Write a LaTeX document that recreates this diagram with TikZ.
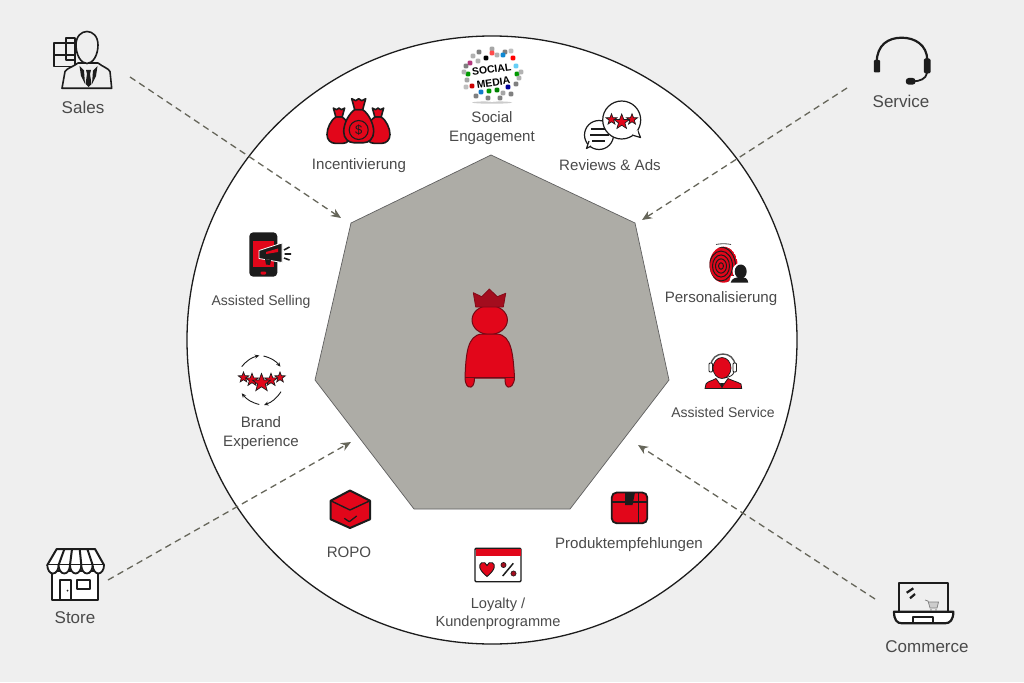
\documentclass[tikz,border=0pt]{standalone}
\usepackage{fontspec}
\setmainfont{Liberation Sans}
\usepackage{tikz}
\usetikzlibrary{positioning,arrows.meta}
\definecolor{bggray}{HTML}{EFEFEF}
\definecolor{polygray}{HTML}{ADACA6}
\definecolor{redfill}{HTML}{E2061A}
\definecolor{darkred}{HTML}{A30D1E}
\definecolor{inkdark}{HTML}{1C1C1C}
\definecolor{flowgray}{HTML}{66665A}
\definecolor{textgray}{HTML}{4A4A4A}
\tikzset{
  lbl/.style={align=center,inner sep=0pt,text=textgray,font=\fontsize{15.1}{19}\selectfont},
  lblsmall/.style={lbl,font=\fontsize{14}{18}\selectfont},
  lblloyal/.style={lbl,font=\fontsize{14.6}{18}\selectfont},
  lblouter/.style={lbl,font=\fontsize{17}{20}\selectfont},
  flow/.style={draw=flowgray,line width=1.3pt,dash pattern=on 6.5pt off 4.5pt,-{Stealth[length=10pt,width=8.5pt]}},
  ink/.style={draw=inkdark,line width=1.6pt,line join=round},
  inkred/.style={ink,fill=redfill},
  pics/starmark/.style={code={
    \draw[draw=inkdark,line width=.7pt,fill=redfill,line join=miter]
      (0,-5)--(1.3,-1.6)--(4.8,-1.5)--(2,.6)--(3,4)--(0,2)--(-3,4)--(-2,.6)--(-4.8,-1.5)--(-1.3,-1.6)--cycle;
  }},
  pics/moneybag/.style={code={
    \draw[inkred] (-4,-11) .. controls (-10,-7) and (-15,3) .. (-15,11)
      .. controls (-15,18) and (-10,22) .. (-5,22) -- (5,22)
      .. controls (10,22) and (15,18) .. (15,11) .. controls (15,3) and (10,-7) .. (4,-11) -- cycle;
    \draw[inkred] (-7,-22) -- (-3,-20) -- (0,-22) -- (3,-20) -- (7,-22) -- (4,-11) -- (-4,-11) -- cycle;
  }},
}
\begin{document}
\begin{tikzpicture}[x=1pt,y=-1pt,>=Stealth]
  \useasboundingbox (0,0) rectangle (1024,682);
  \fill[bggray] (0,0) rectangle (1024,682);
  \draw[inkdark,line width=1.3pt,fill=white] (492,340) ellipse [x radius=305,y radius=304];
  \draw[inkdark!70,line width=.7pt,fill=polygray] (491,155) -- (635,223) -- (669,380) -- (570,509)
    -- (414,509) -- (315,380) -- (351,223) -- cycle;

  % connectors
  \coordinate (salesfrom) at (130,77);
  \coordinate (salesto) at (341,218);
  \coordinate (servicefrom) at (847,88);
  \coordinate (serviceto) at (642,220);
  \coordinate (storefrom) at (108,580);
  \coordinate (storeto) at (351,442);
  \coordinate (commercefrom) at (875,599);
  \coordinate (commerceto) at (638,445);
  \draw[flow] (salesfrom) -- (salesto);
  \draw[flow] (servicefrom) -- (serviceto);
  \draw[flow] (storefrom) -- (storeto);
  \draw[flow] (commercefrom) -- (commerceto);

  % labels
  \node[lblouter] (sales) at (83,107) {Sales};
  \node[lblouter] (service) at (901,101) {Service};
  \node[lblouter] (store) at (75,618) {Store};
  \node[lblouter] (commerce) at (927,647) {Commerce};
  \node[lbl] (social) at (492,128) {Social\\Engagement};
  \node[lbl] (incent) at (359,166) {Incentivierung};
  \node[lbl] (reviews) at (610,165) {Reviews \& Ads};
  \node[lbl] (person) at (721,299) {Personalisierung};
  \node[lblsmall] (asservice) at (723,412) {Assisted Service};
  \node[lblsmall] (asselling) at (261,302) {Assisted Selling};
  \node[lbl] (brand) at (261,433) {Brand\\Experience};
  \node[lbl] (ropo) at (349,552) {ROPO};
  \node[lbl] (produkt) at (629,545) {Produktempfehlungen};
  \node[lblloyal] (loyalty) at (498,614) {Loyalty /\\Kundenprogramme};

  % king
  \draw[draw=darkred!70!black,line width=1pt,fill=redfill] (489.7,320) ellipse [x radius=17.7,y radius=14.5];
  \draw[draw=darkred!80!black,line width=.8pt,fill=darkred,line join=round] (473.3,292.7) -- (481.7,296.7) -- (489.3,289)
    -- (497.3,296.7) -- (505.7,293.3) -- (503.3,307) -- (475.7,307) -- cycle;
  \draw[draw=darkred!70!black,line width=1pt,fill=redfill] (465,377) .. controls (466,355) and (467,335) .. (482,334)
    -- (497,334) .. controls (512,335) and (513,355) .. (514.5,377) .. controls (514.5,385) and (510,388) .. (508,387)
    .. controls (505,386) and (505,381) .. (505,378) -- (474.5,378) .. controls (474.5,381) and (474,386) .. (471,387)
    .. controls (468,388) and (465,385) .. (465,377) -- cycle;
  \draw[darkred!70!black,line width=.6pt] (465,377) -- (514.5,377);

  % sales icon
  \draw[ink] (54,43.3) rectangle (75,66.7);
  \draw[ink] (54,55) -- (75,55);
  \draw[ink] (66,38.3) rectangle (75,60);
  \draw[ink,fill=bggray] (62,88.3) -- (65,71.5) .. controls (67,68) and (73,67) .. (78,63) -- (98,63)
    .. controls (103,67) and (108,68) .. (110,71.5) -- (111.7,88.3) -- cycle;
  \draw[ink,fill=bggray] (76,45) .. controls (76,27) and (98,27) .. (98,45)
    .. controls (98,55) and (93,63.5) .. (87,63.5) .. controls (81,63.5) and (76,55) .. (76,45) -- cycle;
  \fill[inkdark] (79.5,66) -- (84,70.5) -- (85,84) -- (81,76) -- cycle;
  \fill[inkdark] (97.5,66) -- (93,70.5) -- (92,84) -- (96,76) -- cycle;
  \fill[inkdark] (86,70) -- (91,70) -- (90,74) -- (91.5,84) -- (88.5,87) -- (85.5,84) -- (87,74) -- cycle;

  % service icon
  \draw[ink,line width=2.2pt] (876.7,62) .. controls (877,45) and (888,37.7) .. (901.7,37.7)
    .. controls (915,37.7) and (927,45) .. (927.3,60);
  \fill[inkdark,rounded corners=1pt] (873.8,60) rectangle (880.2,72.5);
  \fill[inkdark,rounded corners=1.5pt] (923.8,58.3) rectangle (930.5,73.5);
  \draw[ink,line width=1.8pt] (927,73) .. controls (926,79) and (920,81) .. (913,81.5);
  \fill[inkdark,rounded corners=2.8pt] (905.8,78) rectangle (915.5,84.6);

  % store icon
  \draw[ink,fill=white,line width=2pt] (51.7,571) rectangle (98.3,600);
  \draw[ink,line width=2pt] (60,600) -- (60,580) -- (70.7,580) -- (70.7,600);
  \fill[inkdark] (67.5,590.5) circle (1);
  \draw[ink,line width=2pt] (76.7,580) rectangle (90,589);
  \draw[ink,fill=white,line width=2pt] (56.7,549) -- (95,549) -- (104,565) -- (47.3,565) -- cycle;
  \foreach \topx/\botx in {64.4/58.6,72/70,79.7/81.3,87.3/92.7}
    \draw[ink,line width=2pt] (\topx,549) -- (\botx,565);
  \foreach \botx in {47.3,58.6,70,81.3,92.7}
    \draw[ink,fill=white,line width=1.8pt] (\botx,565) arc [start angle=180,end angle=0,x radius=5.67,y radius=8.5];

  % commerce icon
  \draw[ink,line width=1.9pt] (899.3,611.7) -- (899.3,582.7) -- (948.3,582.7) -- (948.3,611.7);
  \draw[ink,line width=2.2pt,fill=white] (894,611.7) -- (953.3,611.7) .. controls (953.3,620) and (950,623.3) .. (945,623.3)
    -- (902,623.3) .. controls (897,623.3) and (894,620) .. (894,611.7) -- cycle;
  \draw[ink,line width=1.7pt] (912.7,622.5) -- (912.7,617.3) -- (933.3,617.3) -- (933.3,622.5);
  \draw[ink,line width=2.2pt] (906.7,592.7) -- (913.3,588.3);
  \draw[ink,line width=2.2pt] (910,598.3) -- (915,594);
  \draw[gray,line width=.7pt,fill=gray!40] (925,600) -- (928,601) -- (930,608) -- (937,608) -- (938.5,602) -- (928,602);
  \fill[gray] (931,610) circle (.8) (936,610) circle (.8);

  % incentivierung icon
  \pic at (339,125.7) [scale=.8] {moneybag};
  \pic at (378,125.7) [scale=.8] {moneybag};
  \pic at (358.7,120.7) {moneybag};
  \draw[ink,line width=1.1pt] (358.7,130) circle (9.5);
  \node[inner sep=0pt,font=\fontsize{13}{13}\selectfont,text=inkdark] (dollar) at (358.7,130) {\$};

  % social media icon
  \fill[gray!40] (492,102.5) ellipse [x radius=20,y radius=1.2];
  \fill[white] (492,73.3) circle (28.5);
  \foreach \x/\y/\c in {479/52/gray,492/49/gray!70,505/52/gray,470/63/magenta!70!black,503/55/cyan!70!blue,513/58/red,
    516/66/cyan!60,517/74/green!60!black,468/74/green!60!black,466/66/gray,472/86/red!80!black,481/92/cyan!60!blue,
    497/90/green!50!black,508/87/blue!60!black,516/84/gray,488/98/gray,500/98/gray,476/96/gray,511/94/gray,
    486/58/black,467/80/gray!70,473/56/gray!60,497/55/gray!60,511/51/gray!50,464/72/gray!60,521/72/gray!60,
    489/91/green!60!black,503/93/gray!70,492/53/red!70,478/61/gray!60,519/78/gray!60,466/87/gray!50}
    \fill[\c,rounded corners=1pt] (\x-2.3,\y-2.3) rectangle (\x+2.3,\y+2.3);
  \node[inner sep=0pt,align=center,font=\fontsize{10.4}{13}\bfseries,text=black,rotate=8] (socialword) at (492.5,76) {SOCIAL\\MEDIA};

  % reviews icon
  \draw[ink,line width=1.2pt,fill=white] (599,135) circle (14.5);
  \draw[ink,line width=1.2pt,fill=white] (591,146) -- (586.5,148.5) -- (589,141);
  \draw[ink,line width=1.2pt] (591,129) -- (607,129) (590,135) -- (609,135) (592,141) -- (605,141);
  \draw[ink,line width=1.2pt,fill=white] (621.7,120) circle (19);
  \draw[ink,line width=1.2pt,fill=white] (632,135) -- (640.5,137.5) -- (637.5,130);
  \fill[white] (633,133) -- (637.5,130) -- (638,135) -- cycle;
  \pic at (611.5,119.5) [scale=1.15] {starmark};
  \pic at (632,119.5) [scale=1.15] {starmark};
  \pic at (621.7,122) [scale=1.6] {starmark};

  % personalisierung icon
  \begin{scope}
    \clip (723.5,264.7) ellipse [x radius=14,y radius=18];
    \fill[redfill] (723.5,264.7) ellipse [x radius=14,y radius=18];
    \foreach \rad in {2.5,5.5,8.5,11.5,14.5,17.5}
      \draw[inkdark,line width=1pt] (721,266) ellipse [x radius=\rad,y radius=1.3*\rad];
  \end{scope}
  \draw[inkdark!80,line width=.8pt] (716,244.5) .. controls (720,243.5) and (727,243.5) .. (731,244.5);
  \fill[white] (740.5,271) circle (8) (728.5,284) -- (731,276) -- (751,276) -- (751,284) -- cycle;
  \fill[inkdark] (740.7,271.5) ellipse [x radius=6,y radius=7];
  \fill[inkdark] (730.7,282.7) .. controls (731.5,278) and (736,277.5) .. (740.7,277)
    .. controls (745,277.5) and (747.5,278) .. (748.3,282.7) -- cycle;

  % assisted service icon
  \draw[inkred,line width=.8pt] (705,388.5) -- (706,384) .. controls (708,381) and (712,381) .. (716,378.5)
    -- (722,387) -- (728,378.5) .. controls (733,381) and (738,382) .. (741,384) -- (741.7,388.5) -- cycle;
  \fill[inkdark] (720,383) -- (724,383) -- (722,388.5) -- cycle;
  \draw[inkdark,line width=.7pt,fill=redfill] (722,368) ellipse [x radius=9,y radius=10.5];
  \draw[inkdark!75,line width=1.4pt] (711,366) .. controls (711,350) and (735,350) .. (735,366);
  \draw[inkdark,line width=.9pt,fill=white,rounded corners=1pt] (709,363) rectangle (712.5,372);
  \draw[inkdark,line width=.9pt,fill=white,rounded corners=1pt] (733,363) rectangle (736.5,372);
  \draw[inkdark,line width=.8pt] (734,372) .. controls (733,376) and (729,377) .. (724,378);

  % assisted selling icon
  \fill[inkdark,rounded corners=4pt] (249.3,232.3) rectangle (277.3,276.7);
  \fill[redfill] (253.3,240.7) rectangle (274,266.7);
  \fill[redfill,rounded corners=1pt] (260.5,271.5) rectangle (266,274.5);
  \draw[white,line width=.8pt,fill=inkdark,line join=round] (259,250.5) -- (282,243) -- (282,262.5) -- (259,258.5) -- cycle;
  \fill[redfill] (266,252) -- (278,248.5) -- (278,252) -- (266,254) -- cycle;
  \fill[inkdark] (265,259) -- (271,260) -- (270,265) -- (266,264.5) -- cycle;
  \draw[inkdark,line width=1.6pt] (284,250) -- (289.5,247) (284.5,254) -- (291,254) (284,258) -- (289.5,260);

  % brand experience icon
  \pic at (243.5,377.5) [scale=1.1] {starmark};
  \pic at (280,377.5) [scale=1.1] {starmark};
  \pic at (252,380) [scale=1.35] {starmark};
  \pic at (271,380) [scale=1.35] {starmark};
  \pic at (261.5,383) [scale=1.9] {starmark};
  \coordinate (arrowa) at (241.7,366.7);
  \coordinate (arrowb) at (259.3,355.5);
  \coordinate (arrowc) at (263.5,356);
  \coordinate (arrowd) at (280.5,366.7);
  \coordinate (arrowe) at (281,391.7);
  \coordinate (arrowf) at (264,405);
  \coordinate (arrowg) at (259.3,404.5);
  \coordinate (arrowh) at (241.7,393.3);
  \draw[inkdark,line width=.9pt,-{Stealth[length=4.5pt,width=4pt]}] (arrowa) to[bend left=18] (arrowb);
  \draw[inkdark,line width=.9pt,-{Stealth[length=4.5pt,width=4pt]}] (arrowc) to[bend left=18] (arrowd);
  \draw[inkdark,line width=.9pt,-{Stealth[length=4.5pt,width=4pt]}] (arrowe) to[bend left=18] (arrowf);
  \draw[inkdark,line width=.9pt,-{Stealth[length=4.5pt,width=4pt]}] (arrowg) to[bend left=18] (arrowh);

  % ropo icon
  \draw[inkred,line width=2pt] (350,490.5) -- (370,500.7) -- (370,519.3) -- (350,528) -- (330.7,519.3) -- (330.7,500.7) -- cycle;
  \draw[ink,line width=1.4pt] (330.7,500.7) -- (350,510) -- (370,500.7);
  \draw[ink,line width=1.3pt] (344.3,518.3) -- (349.3,521.7) -- (356.7,516);

  % loyalty icon
  \draw[ink,line width=1.4pt,fill=white,rounded corners=1pt] (475,548.3) rectangle (521,581.7);
  \fill[redfill] (475.5,549) rectangle (520.5,556);
  \draw[inkdark,line width=.9pt,fill=redfill] (487,576.5) .. controls (479,570) and (478,565) .. (481.5,562.8)
    .. controls (484,561.5) and (486,563) .. (487,565.5) .. controls (488,563) and (490,561.5) .. (492.5,562.8)
    .. controls (496,565) and (495,570) .. (487,576.5) -- cycle;
  \draw[inkdark,line width=1.5pt] (513.3,563.3) -- (502.7,576);
  \draw[inkdark,line width=.6pt,fill=darkred] (503.5,565) circle (2.6) (513.5,573.5) circle (2.6);

  % produkt icon
  \draw[inkred,line width=1.8pt,rounded corners=5pt] (611.7,492.5) rectangle (647.3,523.3);
  \draw[ink,line width=1.2pt] (611.7,502) -- (647.3,502) (638.3,492.5) -- (638.3,523.3);
  \fill[inkdark] (625,492.5) -- (635,492.5) -- (632.5,505) -- (625,505) -- cycle;
\end{tikzpicture}
\end{document}
